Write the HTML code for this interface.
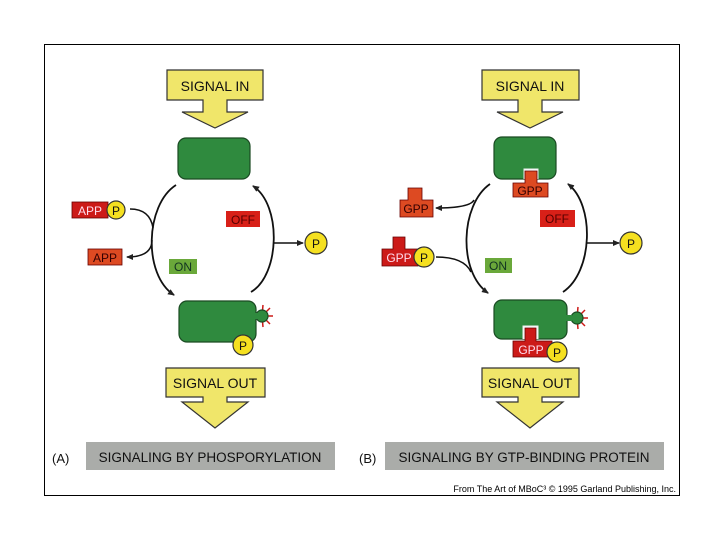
<!DOCTYPE html>
<html><head><meta charset="utf-8"><style>
html,body{margin:0;padding:0;background:#fff;}
svg{display:block;}
text{font-family:"Liberation Sans",Arial,sans-serif;}
</style></head><body>
<svg width="720" height="540" viewBox="0 0 720 540" xmlns="http://www.w3.org/2000/svg">
<defs>
<marker id="ah" markerWidth="8" markerHeight="8" refX="6" refY="4" orient="auto" markerUnits="userSpaceOnUse">
<path d="M0,1 L7,4 L0,7 Z" fill="#222"/></marker>
</defs>
<rect x="44.5" y="44.5" width="635" height="451" fill="#fff" stroke="#000" stroke-width="1"/>

<!-- Panel A -->
<g>
<path d="M167,70 H263 V100 H227 V112 H248 L215,128 L182,112 H203 V100 H167 Z" fill="#f0e66a" stroke="#333" stroke-width="1.2"/>
<text x="215" y="91" font-size="14" text-anchor="middle" fill="#111">SIGNAL IN</text>
<rect x="178" y="138" width="72" height="41" rx="8" fill="#2f8a3e" stroke="#1a4a22" stroke-width="1.2"/>
<path d="M176,185 C145,205 143,275 174,295" fill="none" stroke="#111" stroke-width="1.8" marker-end="url(#ah)"/>
<path d="M251,292 C280,275 282,205 253,186" fill="none" stroke="#111" stroke-width="1.8" marker-end="url(#ah)"/>
<path d="M130,209 Q150,209 153,228" fill="none" stroke="#111" stroke-width="1.5"/>
<path d="M152,240 Q152,257 127,257" fill="none" stroke="#111" stroke-width="1.5" marker-end="url(#ah)"/>
<path d="M274,243 H303" fill="none" stroke="#111" stroke-width="1.5" marker-end="url(#ah)"/>
<rect x="72" y="202" width="36" height="16" fill="#cc1a18" stroke="#600" stroke-width="0.8"/>
<text x="90" y="215" font-size="12" text-anchor="middle" fill="#fde">APP</text>
<circle cx="116" cy="210" r="9" fill="#f5e020" stroke="#333" stroke-width="1.2"/>
<text x="116" y="215" font-size="12" text-anchor="middle" fill="#111">P</text>
<rect x="88" y="249" width="34" height="16" fill="#dd4a22" stroke="#600" stroke-width="0.8"/>
<text x="105" y="262" font-size="12" text-anchor="middle" fill="#300">APP</text>
<rect x="226" y="211" width="34" height="16" fill="#d82018"/>
<text x="243" y="224" font-size="12" text-anchor="middle" fill="#500">OFF</text>
<rect x="169" y="259" width="28" height="15" fill="#6aa83a"/>
<text x="183" y="271" font-size="12" text-anchor="middle" fill="#132">ON</text>
<circle cx="316" cy="243" r="11" fill="#f5e020" stroke="#333" stroke-width="1.2"/>
<text x="316" y="248" font-size="12" text-anchor="middle" fill="#111">P</text>
<g stroke="#cc1a18" stroke-width="1.5">
<line x1="262" y1="316" x2="273" y2="316"/><line x1="262" y1="316" x2="270" y2="308"/><line x1="262" y1="316" x2="270" y2="324"/><line x1="262" y1="316" x2="263" y2="305"/><line x1="262" y1="316" x2="263" y2="327"/></g>
<circle cx="262" cy="316" r="6" fill="#2f8a3e" stroke="#1a4a22" stroke-width="1.2"/>
<rect x="179" y="301" width="77" height="41" rx="8" fill="#2f8a3e" stroke="#1a4a22" stroke-width="1.2"/>
<rect x="254" y="313" width="4" height="6" fill="#2f8a3e"/>
<circle cx="243" cy="345" r="10" fill="#f5e020" stroke="#333" stroke-width="1.2"/>
<text x="243" y="350" font-size="12" text-anchor="middle" fill="#111">P</text>
<path d="M166,368 H265 V397 H227 V402 H248 L215,428 L182,402 H203 V397 H166 Z" fill="#f0e66a" stroke="#333" stroke-width="1.2"/>
<text x="215" y="388" font-size="14" text-anchor="middle" fill="#111">SIGNAL OUT</text>
</g>

<!-- Panel B -->
<g>
<path d="M482,70 H579 V100 H542 V112 H563 L530,128 L497,112 H518 V100 H482 Z" fill="#f0e66a" stroke="#333" stroke-width="1.2"/>
<text x="530" y="91" font-size="14" text-anchor="middle" fill="#111">SIGNAL IN</text>
<rect x="494" y="137" width="62" height="42" rx="8" fill="#2f8a3e" stroke="#1a4a22" stroke-width="1.2"/>
<path d="M524,179 V169 H538 V179" fill="#fff" stroke="#eee" stroke-width="1"/>
<path d="M513,183 H525 V171 H537 V183 H548 V197 H513 Z" fill="#dd4a22" stroke="#600" stroke-width="0.8"/>
<text x="530" y="195" font-size="12" text-anchor="middle" fill="#300">GPP</text>
<path d="M490,184 C460,205 458,272 488,293" fill="none" stroke="#111" stroke-width="1.8" marker-end="url(#ah)"/>
<path d="M563,292 C593,272 595,205 568,184" fill="none" stroke="#111" stroke-width="1.8" marker-end="url(#ah)"/>
<path d="M474,200 Q470,208 436,208" fill="none" stroke="#111" stroke-width="1.5" marker-end="url(#ah)"/>
<path d="M436,257 Q464,257 471,272" fill="none" stroke="#111" stroke-width="1.5"/>
<path d="M587,243 H619" fill="none" stroke="#111" stroke-width="1.5" marker-end="url(#ah)"/>
<path d="M400,200 H408 V188 H422 V200 H433 V217 H400 Z" fill="#dd4a22" stroke="#600" stroke-width="0.8"/>
<text x="416" y="213" font-size="12" text-anchor="middle" fill="#300">GPP</text>
<path d="M382,249 H393 V237 H405 V249 H418 V266 H382 Z" fill="#cc1a18" stroke="#600" stroke-width="0.8"/>
<text x="399" y="262" font-size="12" text-anchor="middle" fill="#fde">GPP</text>
<circle cx="424" cy="257" r="10" fill="#f5e020" stroke="#333" stroke-width="1.2"/>
<text x="424" y="262" font-size="12" text-anchor="middle" fill="#111">P</text>
<rect x="540" y="210" width="35" height="17" fill="#d82018"/>
<text x="557" y="223" font-size="12" text-anchor="middle" fill="#500">OFF</text>
<rect x="485" y="258" width="27" height="15" fill="#6aa83a"/>
<text x="498" y="270" font-size="12" text-anchor="middle" fill="#132">ON</text>
<circle cx="631" cy="243" r="11" fill="#f5e020" stroke="#333" stroke-width="1.2"/>
<text x="631" y="248" font-size="12" text-anchor="middle" fill="#111">P</text>
<g stroke="#cc1a18" stroke-width="1.5">
<line x1="577" y1="318" x2="588" y2="318"/><line x1="577" y1="318" x2="585" y2="310"/><line x1="577" y1="318" x2="585" y2="326"/><line x1="577" y1="318" x2="578" y2="307"/><line x1="577" y1="318" x2="578" y2="329"/></g>
<circle cx="577" cy="318" r="6" fill="#2f8a3e" stroke="#1a4a22" stroke-width="1.2"/>
<rect x="494" y="300" width="73" height="39" rx="8" fill="#2f8a3e" stroke="#1a4a22" stroke-width="1.2"/>
<rect x="565" y="315" width="7" height="6" fill="#2f8a3e"/>
<path d="M523,339 V326 H538 V339" fill="#fff" stroke="#eee" stroke-width="1"/>
<path d="M513,341 H525 V328 H536 V341 H552 V357 H513 Z" fill="#cc1a18" stroke="#600" stroke-width="0.8"/>
<text x="531" y="354" font-size="12" text-anchor="middle" fill="#fde">GPP</text>
<circle cx="557" cy="352" r="10" fill="#f5e020" stroke="#333" stroke-width="1.2"/>
<text x="557" y="357" font-size="12" text-anchor="middle" fill="#111">P</text>
<path d="M482,368 H579 V397 H542 V402 H563 L530,428 L497,402 H518 V397 H482 Z" fill="#f0e66a" stroke="#333" stroke-width="1.2"/>
<text x="530" y="388" font-size="14" text-anchor="middle" fill="#111">SIGNAL OUT</text>
</g>

<!-- Labels -->
<text x="52" y="463" font-size="13" fill="#111">(A)</text>
<rect x="86" y="442" width="249" height="28" fill="#aaaca9"/>
<text x="210" y="462" font-size="13.5" text-anchor="middle" fill="#111">SIGNALING BY PHOSPORYLATION</text>
<text x="359" y="463" font-size="13" fill="#111">(B)</text>
<rect x="385" y="442" width="279" height="28" fill="#aaaca9"/>
<text x="524" y="462" font-size="13.5" text-anchor="middle" fill="#111">SIGNALING BY GTP-BINDING PROTEIN</text>
<text x="676" y="492" font-size="9" text-anchor="end" fill="#000">From The Art of MBoC³ © 1995 Garland Publishing, Inc.</text>
</svg>
</body></html>
